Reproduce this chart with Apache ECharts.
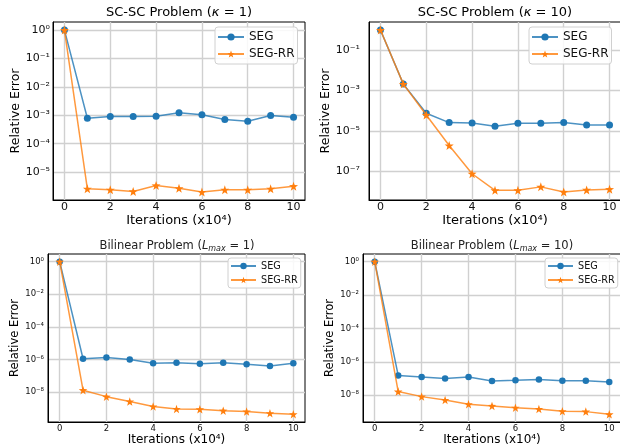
<!DOCTYPE html>
<html><head><meta charset="utf-8">
<script src="https://cdn.jsdelivr.net/npm/echarts@6/dist/echarts.min.js"></script>
<style>html,body{margin:0;padding:0;background:#fff}#c{width:620px;height:444px}</style>
</head><body><div id="c"></div>
<script>
// ---- data ----
const iterations = [0, 1, 2, 3, 4, 5, 6, 7, 8, 9, 10];
const xTickValues = [0, 2, 4, 6, 8, 10];
const seriesNames = ['SEG', 'SEG-RR'];

const scK1_SEG   = [1, 7.9e-4, 9.1e-4, 9.1e-4, 9.3e-4, 1.23e-3, 1.05e-3, 7.1e-4, 6.2e-4, 9.8e-4, 8.5e-4];
const scK1_SEGRR = [1, 2.6e-6, 2.4e-6, 2.1e-6, 3.4e-6, 2.7e-6, 2.0e-6, 2.4e-6, 2.4e-6, 2.6e-6, 3.2e-6];

const scK10_SEG   = [1, 2.1e-3, 7.6e-5, 2.6e-5, 2.5e-5, 1.7e-5, 2.4e-5, 2.4e-5, 2.6e-5, 2.0e-5, 2.0e-5];
const scK10_SEGRR = [1, 2.1e-3, 6.2e-5, 1.9e-6, 7.6e-8, 1.15e-8, 1.15e-8, 1.7e-8, 9.5e-9, 1.2e-8, 1.3e-8];

const bilL1_SEG   = [1, 1.1e-6, 1.3e-6, 1.0e-6, 5.8e-7, 6.3e-7, 5.5e-7, 6.3e-7, 5.0e-7, 4.0e-7, 5.8e-7];
const bilL1_SEGRR = [1, 1.3e-8, 5.2e-9, 2.6e-9, 1.3e-9, 9.1e-10, 8.7e-10, 7.2e-10, 6.3e-10, 5.0e-10, 4.3e-10];

const bilL10_SEG   = [1, 1.55e-7, 1.23e-7, 1.02e-7, 1.23e-7, 7.1e-8, 7.8e-8, 8.9e-8, 7.4e-8, 7.4e-8, 6.2e-8];
const bilL10_SEGRR = [1, 1.66e-8, 8.3e-9, 5.2e-9, 2.9e-9, 2.3e-9, 1.8e-9, 1.5e-9, 1.1e-9, 1.05e-9, 7.2e-10];

const yTicksK1  = [1e-5, 1e-4, 1e-3, 1e-2, 1e-1, 1];
const yTicksK10 = [1e-7, 1e-5, 1e-3, 1e-1];
const yTicksBil = [1e-8, 1e-6, 1e-4, 1e-2, 1];

// ---- helpers ----
const FONT = '"DejaVu Sans", sans-serif';
const BLUE = '#1f77b4', ORANGE = '#ff7f0e';
const STAR = 'path://M0,-10 L2.35,-3.24 L9.51,-3.09 L3.8,1.24 L5.88,8.09 L0,4 L-5.88,8.09 L-3.8,1.24 L-9.51,-3.09 L-2.35,-3.24 Z';
const SUP = {'-':'\u207b','0':'\u2070','1':'\u00b9','2':'\u00b2','3':'\u00b3','4':'\u2074','5':'\u2075','6':'\u2076','7':'\u2077','8':'\u2078','9':'\u2079'};
function sup(n){ return String(n).split('').map(c => SUP[c]).join(''); }
function powLabel(v){ return '10' + sup(Math.round(Math.log10(v))); }
function pts(arr){ return iterations.map((x, j) => [x, arr[j]]); }

const panels = [
  {grid:{left:53, top:22, width:252, height:178}, ymin:-5.98, ymax:0.285, ticks:yTicksK1,
   data:[scK1_SEG, scK1_SEGRR], big:true, labelMargin:3, yNameGap:29, xNameGap:13,
   legend:{left:215, top:27}},
  {grid:{left:369, top:22, width:252, height:178}, ymin:-8.42, ymax:0.40, ticks:yTicksK10,
   data:[scK10_SEG, scK10_SEGRR], big:true, labelMargin:9, yNameGap:31, xNameGap:13,
   legend:{left:529, top:27}},
  {grid:{left:48, top:254, width:257, height:168}, ymin:-9.84, ymax:0.47, ticks:yTicksBil,
   data:[bilL1_SEG, bilL1_SEGRR], big:false, labelMargin:4, yNameGap:25, xNameGap:9,
   legend:{left:228, top:258}},
  {grid:{left:363, top:254, width:258, height:168}, ymin:-9.60, ymax:0.457, ticks:yTicksBil,
   data:[bilL10_SEG, bilL10_SEGRR], big:false, labelMargin:4, yNameGap:25, xNameGap:9,
   legend:{left:545, top:258}}
];

const option = {
  animation: false,
  backgroundColor: '#fff',
  grid: [], xAxis: [], yAxis: [], series: [], legend: [],
  graphic: [
    {type:'text', x:179, y:13, style:{text:'SC-SC Problem ({i|\u03ba} = 1)', fill:'#000', fontSize:13, fontFamily:FONT,
      align:'center', verticalAlign:'middle', textAlign:'center', textVerticalAlign:'middle',
      rich:{i:{fontStyle:'italic', fontSize:13, fontFamily:FONT, fill:'#000'}}}},
    {type:'text', x:495, y:13, style:{text:'SC-SC Problem ({i|\u03ba} = 10)', fill:'#000', fontSize:13, fontFamily:FONT,
      align:'center', verticalAlign:'middle', textAlign:'center', textVerticalAlign:'middle',
      rich:{i:{fontStyle:'italic', fontSize:13, fontFamily:FONT, fill:'#000'}}}},
    {type:'text', x:177, y:246, style:{text:'Bilinear Problem ({i|L}{s|max} = 1)', fill:'#222', fontSize:11.5, fontFamily:FONT,
      align:'center', verticalAlign:'middle', textAlign:'center', textVerticalAlign:'middle',
      rich:{i:{fontStyle:'italic', fontSize:11.5, fontFamily:FONT, fill:'#222'},
            s:{fontStyle:'italic', fontSize:8, fontFamily:FONT, fill:'#222', padding:[6,0,0,0]}}}},
    {type:'text', x:492, y:246, style:{text:'Bilinear Problem ({i|L}{s|max} = 10)', fill:'#222', fontSize:11.5, fontFamily:FONT,
      align:'center', verticalAlign:'middle', textAlign:'center', textVerticalAlign:'middle',
      rich:{i:{fontStyle:'italic', fontSize:11.5, fontFamily:FONT, fill:'#222'},
            s:{fontStyle:'italic', fontSize:8, fontFamily:FONT, fill:'#222', padding:[6,0,0,0]}}}}
  ]
};

panels.forEach((p, i) => {
  const tickFs = p.big ? 11 : 8.5;
  const nameFs = p.big ? 13 : 12;
  const yNameFs = p.big ? 12.5 : 11.5;
  const grid = Object.assign({show:true, borderColor:'#000', borderWidth:1, backgroundColor:'#fff',
                              containLabel:false, outerBoundsMode:'none'}, p.grid);
  option.grid.push(grid);
  option.xAxis.push({
    type:'value', gridIndex:i, min:-0.5, max:10.5,
    name:'Iterations (x10\u2074)', nameLocation:'middle', nameGap:p.xNameGap,
    nameTextStyle:{fontSize:nameFs, fontFamily:FONT, color:'#000'},
    axisLine:{show:true, onZero:false, lineStyle:{color:'#000', width:1}},
    axisTick:{show:false, customValues:xTickValues},
    axisLabel:{customValues:xTickValues, fontSize:tickFs, fontFamily:FONT, color:'#111', margin:2},
    splitLine:{show:true, lineStyle:{color:'#d0d0d0', width:1.4}}
  });
  option.yAxis.push({
    type:'log', logBase:10, gridIndex:i, min:Math.pow(10, p.ymin), max:Math.pow(10, p.ymax),
    name:'Relative Error', nameLocation:'middle', nameGap:p.yNameGap,
    nameTextStyle:{fontSize:yNameFs, fontFamily:FONT, color:'#000'},
    axisLine:{show:true, onZero:false, lineStyle:{color:'#000', width:1}},
    axisTick:{show:false, customValues:p.ticks},
    axisLabel:{customValues:p.ticks, formatter:powLabel, fontSize:tickFs, fontFamily:FONT, color:'#111', margin:p.labelMargin},
    splitLine:{show:true, lineStyle:{color:'#d0d0d0', width:1.4}},
    minorSplitLine:{show:false}
  });
  const symA = p.big ? 7 : 6.5, symB = p.big ? 9 : 8.5;
  option.series.push({
    name:seriesNames[0], type:'line', xAxisIndex:i, yAxisIndex:i, data:pts(p.data[0]),
    symbol:'circle', symbolSize:symA, showAllSymbol:true,
    lineStyle:{color:BLUE, width:1.5, opacity:0.8}, itemStyle:{color:BLUE}, z:2
  });
  option.series.push({
    name:seriesNames[1], type:'line', xAxisIndex:i, yAxisIndex:i, data:pts(p.data[1]),
    symbol:STAR, symbolSize:symB, showAllSymbol:true,
    lineStyle:{color:ORANGE, width:1.5, opacity:0.8}, itemStyle:{color:ORANGE}, z:3
  });
  option.legend.push({
    data:seriesNames, orient:'vertical', left:p.legend.left, top:p.legend.top,
    backgroundColor:'rgba(255,255,255,0.85)', borderColor:'#d0d0d0', borderWidth:1, borderRadius:3,
    padding: p.big ? [4,3,4,2] : [3,3,3,2],
    itemWidth: p.big ? 26 : 25, itemHeight: p.big ? 9 : 8, itemGap: p.big ? 5 : 4,
    textStyle:{fontSize: p.big ? 12 : 9.7, fontFamily:FONT, color:'#111'},
    selectedMode:false
  });
});

const chart = echarts.init(document.getElementById('c'), null, {renderer:'canvas'});
chart.setOption(option);
</script>
</body></html>
